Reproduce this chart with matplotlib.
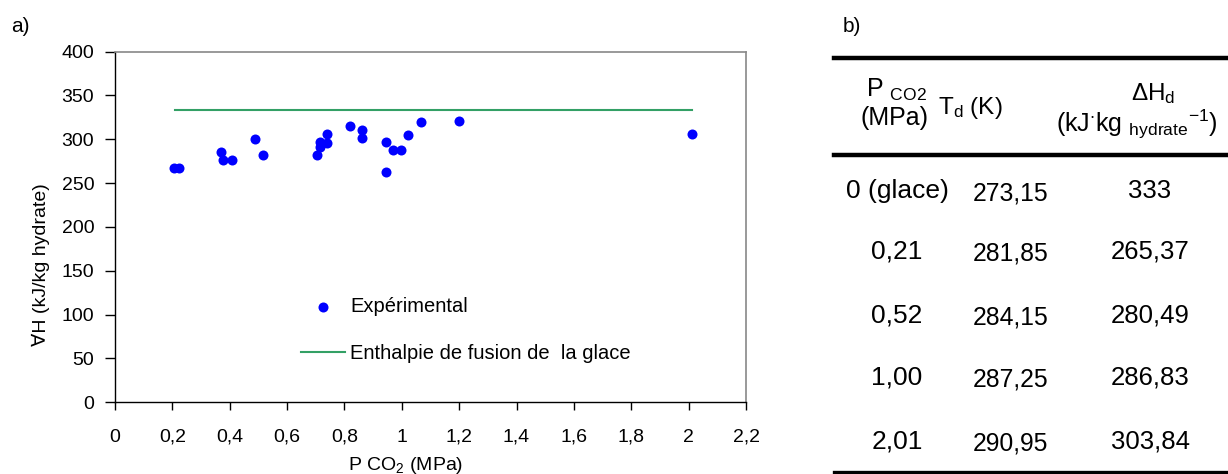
import numpy as np
import matplotlib
matplotlib.use("Agg")
import matplotlib.pyplot as plt
from matplotlib.lines import Line2D
from matplotlib.ticker import FuncFormatter, MultipleLocator

plt.rcParams['font.family'] = ['Liberation Sans', 'DejaVu Sans']
plt.rcParams['mathtext.fontset'] = 'custom'
plt.rcParams['mathtext.rm'] = 'Liberation Sans'
plt.rcParams['mathtext.it'] = 'Liberation Sans'

p_exp = [0.206, 0.224, 0.368, 0.378, 0.408, 0.487, 0.516, 0.705, 0.716, 0.716,
         0.740, 0.740, 0.821, 0.860, 0.860, 0.945, 0.945, 0.968, 0.998, 1.021,
         1.066, 1.198, 2.012]
dh_exp = [266.7, 266.7, 285.2, 275.8, 275.8, 300.1, 281.5, 281.5, 291.3, 296.3,
          295.8, 306.1, 315.2, 310.0, 301.5, 296.3, 262.8, 287.2, 287.2, 304.3,
          319.1, 320.6, 305.8]
ice_p = [0.21, 2.01]
ice_dh = [333, 333]

# table b)
tab_p = ["0 (glace)", "0,21", "0,52", "1,00", "2,01"]
tab_td = ["273,15", "281,85", "284,15", "287,25", "290,95"]
tab_dh = ["333", "265,37", "280,49", "286,83", "303,84"]

W, H = 1228, 474
fig = plt.figure(figsize=(W / 100, H / 100), dpi=100)

def fx(px):
    return px / W

def fy(py):
    return 1 - py / H

ax = fig.add_axes([fx(115), fy(402.3), fx(746) - fx(115), fy(51.5) - fy(402.3)])
ax.scatter(p_exp, dh_exp, s=52, color='#0000ff', zorder=3, label='Expérimental',
           linewidths=0)
ax.plot(ice_p, ice_dh, color='#33a065', lw=1.5, label='Enthalpie de fusion de  la glace')

ax.set_xlim(0, 2.2)
ax.set_ylim(0, 400)
ax.xaxis.set_major_locator(MultipleLocator(0.2))
ax.yaxis.set_major_locator(MultipleLocator(50))
ax.xaxis.set_major_formatter(FuncFormatter(lambda v, p: f"{v:.1f}".rstrip('0').rstrip('.').replace('.', ',')))
ax.tick_params(axis='x', length=6, width=1, pad=13, labelsize=14)
ax.tick_params(axis='y', length=7, width=1, pad=8, labelsize=14)
for s in ['top', 'right']:
    ax.spines[s].set_color('#888888')
    ax.spines[s].set_linewidth(1.2)
for s in ['left', 'bottom']:
    ax.spines[s].set_linewidth(1.0)

ax.set_ylabel("∀H (kJ/kg hydrate)", fontsize=14)
ax.yaxis.set_label_coords(fx(50), fy(265), transform=fig.transFigure)
fig.text(fx(406), fy(465), r"P CO$_{\mathregular{2}}$ (MPa)", fontsize=14, ha='center', va='center')

ax.legend(loc='upper left', bbox_to_anchor=(fx(301), fy(297)), bbox_transform=fig.transFigure,
          frameon=False, fontsize=14.5, borderpad=0, handlelength=2.2, handletextpad=0.25,
          labelspacing=1.4, borderaxespad=0)

fig.text(fx(11), fy(26), "a)", fontsize=15, ha='left', va='center')
fig.text(fx(843), fy(26), "b)", fontsize=15, ha='left', va='center')

# table rules
for y, lw in [(58, 3.2), (155, 3.2), (472, 2.4)]:
    fig.add_artist(Line2D([fx(834), 1.0], [fy(y), fy(y)], color='black', lw=lw,
                          transform=fig.transFigure))

# headers
fig.text(fx(896), fy(90), r"P $_{\mathregular{CO2}}$", fontsize=18, ha='center', va='center')
fig.text(fx(894), fy(118), "(MPa)", fontsize=18, ha='center', va='center')
fig.text(fx(970), fy(108), r"T$_{\mathregular{d}}$ (K)", fontsize=17.5, ha='center', va='center')
fig.text(fx(1153), fy(94), r"$\mathregular{\Delta}$H$_{\mathregular{d}}$", fontsize=17.5, ha='center', va='center')
fig.text(fx(1137), fy(124), r"(kJ$^{\mathregular{\cdot}}$kg $_{\mathregular{hydrate}}$$^{\mathregular{-1}}$)",
         fontsize=18, ha='center', va='center')

row_y = [191, 252, 316, 378, 441]
for y, a, b, c in zip(row_y, tab_p, tab_td, tab_dh):
    fig.text(fx(897), fy(y), a, fontsize=19, ha='center', va='center')
    fig.text(fx(973), fy(y + 2), b, fontsize=17.8, ha='left', va='center')
    fig.text(fx(1150), fy(y), c, fontsize=18.5, ha='center', va='center')

fig.savefig("out.png", dpi=100)
